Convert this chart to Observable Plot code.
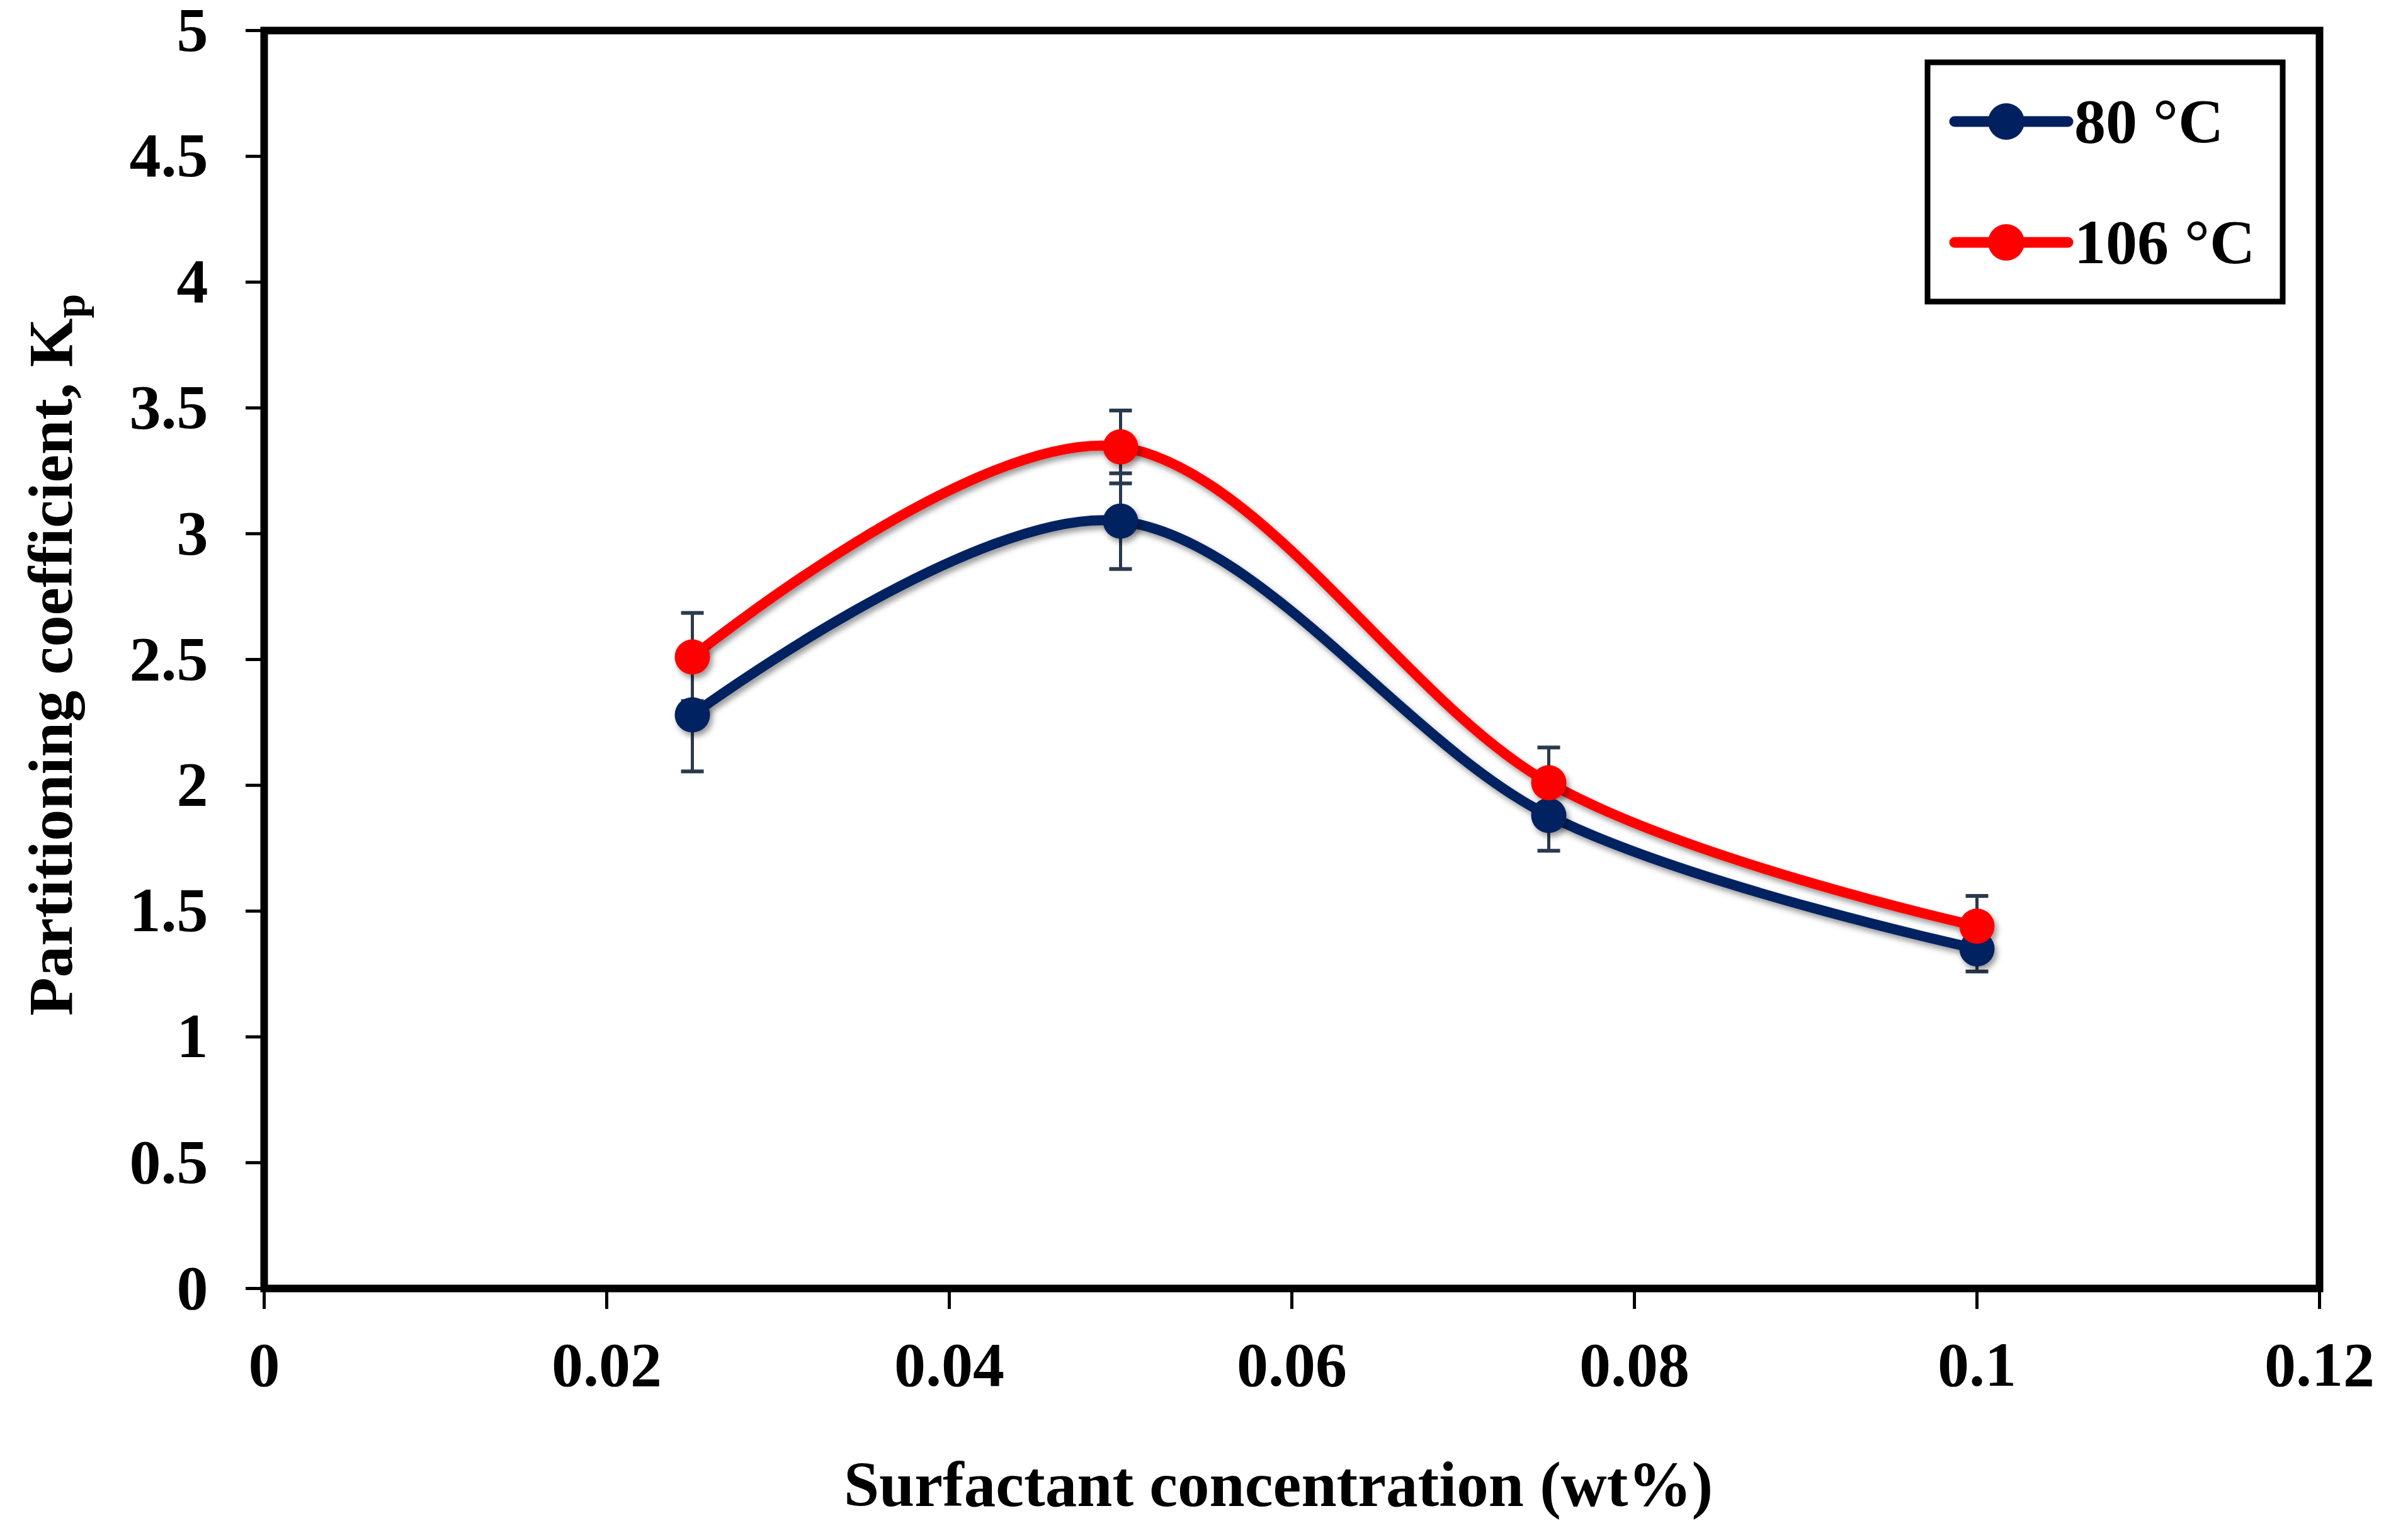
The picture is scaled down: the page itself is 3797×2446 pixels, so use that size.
<!DOCTYPE html>
<html><head><meta charset="utf-8">
<script src="https://cdn.jsdelivr.net/npm/d3@7"></script>
<script src="https://cdn.jsdelivr.net/npm/@observablehq/plot@0.6"></script>
<style>html,body{margin:0;padding:0;background:#fff;overflow:hidden}</style>
</head><body><div id="chart"></div>
<script>
const concentration = [0.025, 0.05, 0.075, 0.1];
const kp80 = [2.28, 3.05, 1.88, 1.35];
const kp106 = [2.51, 3.345, 2.01, 1.44];
const err80 = [0.225, 0.19, 0.14, 0.09];
const err106 = [0.175, 0.145, 0.14, 0.12];
const seriesNames = ["80 °C", "106 °C"];
const seriesColors = ["#002060", "#ff0000"];
const errColor = "#2a3a4c";
const xTicks = [0, 0.02, 0.04, 0.06, 0.08, 0.1, 0.12];
const xTickLabels = ["0", "0.02", "0.04", "0.06", "0.08", "0.1", "0.12"];
const yTicks = [0, 0.5, 1, 1.5, 2, 2.5, 3, 3.5, 4, 4.5, 5];
const yTickLabels = ["0", "0.5", "1", "1.5", "2", "2.5", "3", "3.5", "4", "4.5", "5"];
const xTitle = "Surfactant concentration (wt%)";
const yTitle = "Partitioning coefficient, K";
const yTitleSub = "p";

const seriesValues = [kp80, kp106];
const seriesErrors = [err80, err106];
const rows = [];
seriesValues.forEach((vals, s) => vals.forEach((v, i) => rows.push({
  series: seriesNames[s], x: concentration[i], y: v, err: seriesErrors[s][i]
})));

const capSymbol = {draw(ctx, size) { const w = Math.sqrt(size / Math.PI); ctx.moveTo(-w, 0); ctx.lineTo(w, 0); }};
const FONT = "'Liberation Serif', 'Times New Roman', serif";

const plot = Plot.plot({
  width: 3797, height: 2446,
  marginLeft: 419, marginRight: 114, marginTop: 48, marginBottom: 400,
  style: {fontFamily: FONT, fontSize: "100px", fontWeight: "bold", color: "#000", background: "#fff"},
  x: {domain: [0, 0.12]},
  y: {domain: [0, 5]},
  color: {domain: seriesNames, range: seriesColors},
  marks: [
    Plot.axisX({ticks: xTicks, tickFormat: d => xTickLabels[xTicks.indexOf(d)], tickSize: 33, tickPadding: 50, label: null, strokeWidth: 5}),
    Plot.axisY({ticks: yTicks, tickFormat: d => yTickLabels[yTicks.indexOf(d)], tickSize: 29, tickPadding: 60, label: null, strokeWidth: 5}),
    Plot.ruleX(rows, {x: "x", y1: d => d.y - d.err, y2: d => d.y + d.err, stroke: errColor, strokeWidth: 5}),
    Plot.dot(rows, {x: "x", y: d => d.y + d.err, symbol: capSymbol, r: 18, stroke: errColor, strokeWidth: 6, fill: "none"}),
    Plot.dot(rows, {x: "x", y: d => d.y - d.err, symbol: capSymbol, r: 18, stroke: errColor, strokeWidth: 6, fill: "none"}),
    Plot.line(rows, {x: "x", y: "y", z: "series", stroke: "series", curve: "cardinal", tension: 0, strokeWidth: 16, ariaDescription: "series-line"}),
    Plot.dot(rows, {x: "x", y: "y", fill: "series", r: 28, ariaDescription: "series-marker"}),
    Plot.frame({stroke: "#000", strokeWidth: 12})
  ]
});
document.getElementById("chart").appendChild(plot);

const svg = d3.select(plot);
const defs = svg.insert("defs", ":first-child");
const f = defs.append("filter").attr("id", "shadow").attr("filterUnits", "userSpaceOnUse")
  .attr("x", 0).attr("y", 0).attr("width", 3797).attr("height", 2446);
f.append("feDropShadow").attr("dx", 4).attr("dy", 6).attr("stdDeviation", 5).attr("flood-color", "#000").attr("flood-opacity", 0.4);
svg.selectAll('g[aria-description="series-line"], g[aria-description="series-marker"]').attr("filter", "url(#shadow)");

// axis titles
svg.append("text").attr("x", 2030).attr("y", 2392).attr("text-anchor", "middle")
  .attr("font-family", FONT).attr("font-weight", "bold").attr("font-size", 101).attr("fill", "#000").text(xTitle);
const yt = svg.append("text").attr("transform", "translate(114,1040) rotate(-90)").attr("text-anchor", "middle")
  .attr("font-family", FONT).attr("font-weight", "bold").attr("font-size", 100).attr("fill", "#000");
yt.append("tspan").text(yTitle);
yt.append("tspan").attr("dy", 20).attr("font-size", 70).text(yTitleSub);

// legend
const lg = svg.append("g");
lg.append("rect").attr("x", 3061).attr("y", 99).attr("width", 564).attr("height", 380)
  .attr("fill", "#fff").attr("stroke", "#000").attr("stroke-width", 9);
seriesNames.forEach((name, i) => {
  const cy = 193 + i * 192;
  const g = lg.append("g");
  g.append("line").attr("x1", 3104).attr("x2", 3284).attr("y1", cy).attr("y2", cy)
    .attr("stroke", seriesColors[i]).attr("stroke-width", 17).attr("stroke-linecap", "round");
  g.append("circle").attr("cx", 3186).attr("cy", cy).attr("r", 29).attr("fill", seriesColors[i]);
  g.append("text").attr("x", 3294).attr("y", cy + 33).attr("text-anchor", "start").attr("font-family", FONT).attr("font-weight", "bold")
    .attr("font-size", 100).attr("fill", "#000").text(name);
});
</script>
</body></html>
